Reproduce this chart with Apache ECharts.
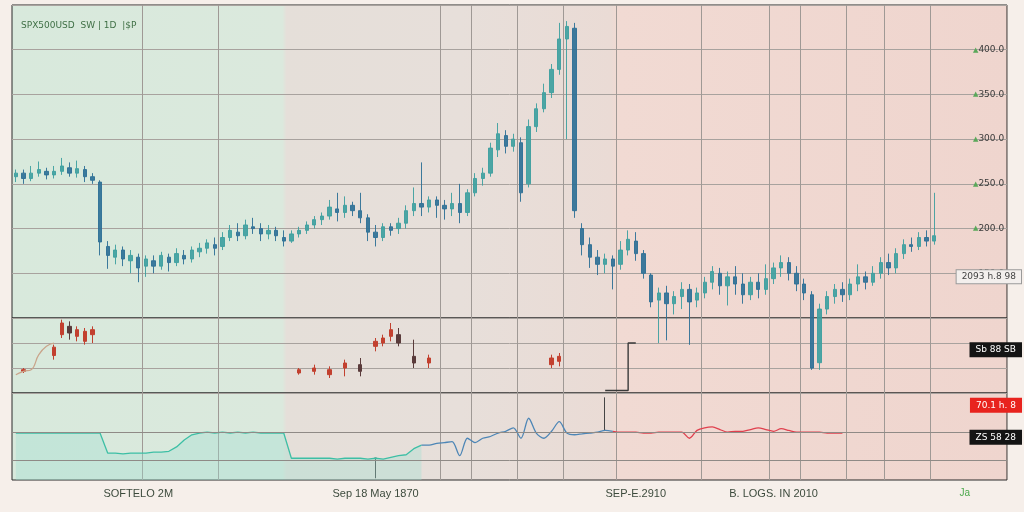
<!DOCTYPE html>
<html>
<head>
<meta charset="utf-8">
<script src="https://cdn.jsdelivr.net/npm/echarts@6/dist/echarts.min.js"></script>
<style>
  html, body { margin: 0; padding: 0; background: #f6efea; }
  #chart { width: 1024px; height: 512px; }
</style>
</head>
<body>
<div id="chart"></div>
<script>
const N = 130
const categories = Array.from({ length: N }, (_, i) => 'D' + (i + 1))

// x-axis tick labels (category index -> text)
const tickIndex = [16, 47, 81, 99, 124]
const tickText = ['SOFTELO 2M', 'Sep 18 May 1870', 'SEP-E.2910', 'B. LOGS. IN 2010', 'Ja']

// vertical grid lines sit on these category boundaries
const gridLineIndex = [17, 27, 56, 60, 66, 72, 79, 90, 99, 103, 109, 114, 120]

// main panel candles: [open, close, low, high]
const priceData = [
  [258,262,252,266],[262,256,250,266],[256,262,253,270],[262,266,258,275],[264,260,255,268],
  [260,264,256,270],[264,270,260,279],[268,262,258,274],[262,267,257,276],[266,258,252,270],
  [258,254,250,262],[252,185,170,254],[180,170,155,186],[168,176,160,182],[176,166,158,180],
  [164,170,150,176],[168,156,140,172],[158,166,146,170],[164,158,150,170],[158,170,154,174],
  [168,162,152,172],[162,172,158,178],[170,166,160,176],[166,176,162,180],[174,178,168,184],
  [178,184,172,188],[182,178,170,190],[180,190,176,196],[190,198,186,204],[196,192,186,206],
  [192,204,188,210],[202,200,194,212],[200,194,186,206],[194,198,188,204],[198,192,186,202],
  [190,186,180,198],[186,194,184,198],[194,198,190,202],[198,204,194,208],[204,210,200,214],
  [210,214,204,218],[214,224,210,232],[222,218,208,240],[218,226,212,236],[226,220,214,230],
  [220,212,206,240],[212,196,186,216],[196,190,180,204],[190,202,186,206],[202,198,192,206],
  [200,206,194,212],[206,220,200,226],[220,228,214,246],[228,224,214,274],[224,232,218,236],
  [232,226,212,236],[226,222,210,232],[222,228,214,240],[228,218,206,250],[218,240,214,244],
  [240,256,236,262],[256,262,248,268],[262,290,258,296],[288,306,280,318],[304,292,284,310],
  [292,300,286,306],[296,240,230,302],[250,314,246,322],[314,334,308,340],[334,352,330,362],
  [352,378,346,384],[378,412,372,430],[412,426,300,432],[424,220,212,430],[200,182,170,206],
  [182,168,156,190],[168,160,148,176],[160,166,150,172],[166,158,132,170],[160,176,154,186],
  [176,188,170,198],[186,172,164,196],[172,150,144,176],[148,118,112,150],[120,128,72,134],
  [128,116,75,136],[116,124,104,130],[124,132,110,140],[132,118,70,138],[120,128,112,134],
  [128,140,122,146],[140,152,132,158],[150,136,126,156],[136,146,114,152],[146,138,126,158],
  [138,126,116,150],[126,140,120,146],[140,132,122,150],[132,144,126,160],[144,156,138,162],
  [156,162,146,170],[162,150,142,168],[150,138,130,158],[138,128,120,144],[126,44,42,130],
  [50,110,42,116],[110,124,104,130],[124,132,116,138],[132,126,118,140],[126,138,120,144],
  [138,146,130,160],[146,140,132,152],[140,150,136,158],[150,162,144,168],[162,156,148,172],
  [156,172,150,178],[172,182,166,188],[182,180,174,190],[180,190,176,196],[190,186,180,198],
  [186,192,182,240]
]

// middle panel: sparse candles
const subIdx = [1, 5, 6, 7, 8, 9, 10, 37, 39, 41, 43, 45, 47, 48, 49, 50, 52, 54, 70, 71]
const subOHLC = [
  [26,28,24,30],[45,55,40,58],[70,84,66,88],[80,72,64,86],[68,76,62,80],
  [62,74,58,78],[70,76,60,80],[24,28,22,30],[26,30,22,34],[22,28,18,32],
  [30,36,20,40],[34,26,20,42],[56,62,50,66],[60,66,56,70],[68,76,62,84],
  [70,60,56,78],[44,36,30,64],[36,42,30,46],[34,42,30,46],[38,44,32,48]
]
const subCurve = [22, 26, 28, 46, 56, 60]          // from index 0
const subStepStart = 77
const subStep = [3, 3, 3, 60]

// bottom panel: indicator line in three colour runs
const tealStart = 0
const tealLine = [
  54,54,54,54,54,54,54,54,54,54,54,54,
  31,31,30,31,31,31,32,32,33,38,46,52,54,55,54,55,54,55,54,55,54,54,54,54,
  25,25,25,25,25,25,24,25,25,25,24,25,24,26,28,29,36,40
]
const blueStart = 53
const blueLine = [40,40,42,43,44,28,48,43,48,50,54,56,60,48,71,54,48,56,67,54,52,53,54,55,57,56]
const redStart = 78
const redLine = [56,55,55,55,54,54,55,55,55,55,48,57,60,61,58,55,56,56,58,60,58,56,59,57,55,55,55,55,54,54,54]
const spikeIdx = [47, 77]
const spikeOHLC = [[25,25,2,25],[57,57,57,95]]

function placeAt(indices, values) {
  const out = new Array(N).fill('-')
  indices.forEach((k, j) => { out[k] = values[j] })
  return out
}
function runFrom(start, values) {
  const out = new Array(N).fill('-')
  values.forEach((v, j) => { out[start + j] = v })
  return out
}

const chart = echarts.init(document.getElementById('chart'))

const bg = new echarts.graphic.LinearGradient(0, 0, 1, 0, [
  { offset: 0, color: '#d8e9dc' },
  { offset: 0.272, color: '#dbe9dd' },
  { offset: 0.276, color: '#e5dfd9' },
  { offset: 0.45, color: '#e7dfda' },
  { offset: 0.602, color: '#eadbd5' },
  { offset: 0.608, color: '#f1dad3' },
  { offset: 1, color: '#efd5ce' }
])

const gridBase = { left: 12, right: 17, show: true, backgroundColor: bg, borderColor: '#2a2a2a', borderWidth: 1 }
const splitV = { show: true, interval: (i) => gridLineIndex.includes(i), lineStyle: { color: '#9f9995', width: 1 } }

function xAxisFor(gridIndex, showLabels) {
  return {
    type: 'category', gridIndex, data: categories, boundaryGap: true,
    axisLine: { show: false }, axisTick: { show: false },
    splitLine: splitV,
    axisLabel: showLabels ? {
      show: true,
      interval: (i) => tickIndex.includes(i),
      margin: 8,
      fontFamily: 'Liberation Sans',
      fontSize: 11,
      color: '#3c4a3c',
      formatter: (v, i) => {
        const k = tickIndex.indexOf(i)
        if (k < 0) return ''
        return tickText[k] === 'Ja' ? '{g|Ja}' : tickText[k]
      },
      rich: { g: { color: '#4aa84a', fontSize: 10 } }
    } : { show: false }
  }
}

// price tags on the right edge, drawn as labels of invisible mark lines
const boxLabel = (text, bgc, fg, border) => ({
  show: true, position: 'insideEnd', distance: [-14, -6], formatter: text,
  backgroundColor: bgc, color: fg, borderColor: border || bgc, borderWidth: 1,
  padding: [2, 5], fontSize: 9, fontFamily: 'DejaVu Sans', opacity: 1
})
const hiddenLine = { color: 'rgba(0,0,0,0)', width: 0 }

const option = {
  backgroundColor: '#f6efea',
  animation: false,
  title: {
    text: 'SPX500USD  SW | 1D  |$P',
    left: 16, top: 16,
    textStyle: { fontSize: 9, fontWeight: 'normal', color: '#3f6f45', fontFamily: 'DejaVu Sans' }
  },
  grid: [
    Object.assign({ top: 5, height: 313 }, gridBase),
    Object.assign({ top: 318, height: 75 }, gridBase),
    Object.assign({ top: 393, height: 87 }, gridBase)
  ],
  xAxis: [xAxisFor(0, false), xAxisFor(1, false), xAxisFor(2, true)],
  yAxis: [
    {
      type: 'value', gridIndex: 0, min: 100, max: 450, interval: 50, position: 'right',
      axisLine: { show: false }, axisTick: { show: false },
      splitLine: { lineStyle: { color: '#a8a29e' } },
      axisLabel: {
        margin: -34, align: 'left', fontSize: 9, color: '#3a3a3a', fontFamily: 'DejaVu Sans',
        showMinLabel: false, showMaxLabel: false,
        formatter: (v) => '{g|▲}' + v + '.0',
        rich: { g: { color: '#5aa85a', fontSize: 7 } }
      }
    },
    {
      type: 'value', gridIndex: 1, min: 0, max: 90, interval: 30, position: 'right',
      axisLine: { show: false }, axisTick: { show: false }, axisLabel: { show: false },
      splitLine: { lineStyle: { color: '#a8a29e' } }
    },
    {
      type: 'value', gridIndex: 2, min: 0, max: 100, position: 'right',
      axisLine: { show: false }, axisTick: { show: false }, axisLabel: { show: false },
      splitLine: { show: false }
    }
  ],
  series: [
    {
      name: 'Price', type: 'candlestick', xAxisIndex: 0, yAxisIndex: 0,
      data: priceData, barMaxWidth: 5, clip: false,
      itemStyle: { color: '#3e9fa0', color0: '#2e7096', borderColor: '#3e9fa0', borderColor0: '#2e7096', opacity: 0.92 },
      markLine: {
        silent: true, symbol: 'none', lineStyle: hiddenLine,
        data: [{ yAxis: 146, label: boxLabel('2093 h.8 98', '#f3efed', '#444', '#9a9a9a') }]
      }
    },
    {
      name: 'Sub', type: 'candlestick', xAxisIndex: 1, yAxisIndex: 1,
      data: placeAt(subIdx, subOHLC), barMaxWidth: 4,
      itemStyle: { color: '#c2402f', color0: '#5a3b3b', borderColor: '#c2402f', borderColor0: '#5a3b3b' },
      markLine: {
        silent: true, symbol: 'none', lineStyle: hiddenLine,
        data: [{ yAxis: 52, label: boxLabel('Sb 88 SB', '#141414', '#fff') }]
      }
    },
    {
      name: 'SubCurve', type: 'line', xAxisIndex: 1, yAxisIndex: 1,
      data: runFrom(0, subCurve), smooth: true, symbol: 'none',
      lineStyle: { color: '#c9a48a', width: 1.2 }
    },
    {
      name: 'SubStep', type: 'line', xAxisIndex: 1, yAxisIndex: 1, step: 'end',
      data: runFrom(subStepStart, subStep), symbol: 'none',
      lineStyle: { color: '#3a3a3a', width: 1.4 }
    },
    {
      name: 'Teal', type: 'line', xAxisIndex: 2, yAxisIndex: 2,
      data: runFrom(tealStart, tealLine), symbol: 'none',
      lineStyle: { color: '#3dbfa5', width: 1.3 },
      areaStyle: { color: '#9fe0d0', opacity: 0.35 },
      markLine: {
        silent: true, symbol: 'none', label: { show: false },
        lineStyle: { color: '#8f8a86', type: 'solid', width: 1 },
        data: [{ yAxis: 23 }, { yAxis: 55 }]
      }
    },
    {
      name: 'Blue', type: 'line', xAxisIndex: 2, yAxisIndex: 2,
      data: runFrom(blueStart, blueLine), symbol: 'none', smooth: 0.3,
      lineStyle: { color: '#4d86b6', width: 1.3 }
    },
    {
      name: 'Red', type: 'line', xAxisIndex: 2, yAxisIndex: 2,
      data: runFrom(redStart, redLine), symbol: 'none', smooth: 0.3,
      lineStyle: { color: '#e0404e', width: 1.3 },
      markLine: {
        silent: true, symbol: 'none', lineStyle: hiddenLine,
        data: [
          { yAxis: 86, label: boxLabel('70.1 h. 8', '#e8231e', '#fff') },
          { yAxis: 49, label: boxLabel('ZS 58 28', '#141414', '#fff') }
        ]
      }
    },
    {
      name: 'Spikes', type: 'candlestick', xAxisIndex: 2, yAxisIndex: 2,
      data: placeAt(spikeIdx, spikeOHLC), barMaxWidth: 2,
      itemStyle: { color: '#444', color0: '#444', borderColor: '#444', borderColor0: '#444' }
    }
  ]
}

chart.setOption(option)
window.addEventListener('resize', () => chart.resize())
</script>
</body>
</html>
